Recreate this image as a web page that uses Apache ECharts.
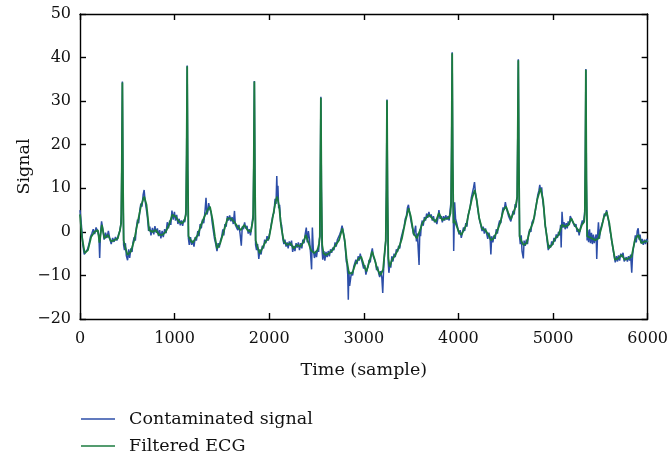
<!DOCTYPE html>
<html><head><meta charset="utf-8">
<script src="https://cdn.jsdelivr.net/npm/echarts@6/dist/echarts.min.js"></script>
<style>html,body{margin:0;padding:0;background:#fff}#c{width:671px;height:455px}</style>
</head><body><div id="c"></div>
<script>
// ---- data ----
const seriesNames = ["Contaminated signal", "Filtered ECG"];
const xTicks = [0, 1000, 2000, 3000, 4000, 5000, 6000];
const yTicks = [-20, -10, 0, 10, 20, 30, 40, 50];

const greenX = [0,20,50,84,119,154,189,206,231,259,294,329,364,399,423,435,442,448,454,462,476,503,538,573,608,643,678,703,731,766,801,836,871,906,941,976,1011,1046,1081,1105,1120,1127,1133,1139,1147,1168,1190,1220,1245,1280,1315,1350,1374,1402,1426,1448,1482,1518,1560,1595,1630,1665,1700,1735,1770,1805,1822,1830,1837,1843,1849,1857,1875,1899,1927,1962,1997,2032,2067,2084,2105,2126,2154,2189,2224,2259,2294,2329,2364,2388,2406,2441,2476,2510,2528,2535,2540,2546,2552,2560,2574,2598,2633,2668,2703,2738,2773,2798,2819,2843,2878,2913,2948,2972,3000,3028,3053,3088,3112,3140,3175,3203,3221,3232,3239,3245,3251,3259,3273,3298,3333,3368,3403,3438,3473,3497,3525,3560,3595,3619,3654,3689,3724,3759,3794,3829,3864,3899,3916,3922,3928,3934,3940,3948,3958,3979,4004,4031,4056,4084,4109,4144,4172,4196,4220,4249,4284,4319,4343,4371,4406,4441,4476,4503,4528,4555,4580,4604,4621,4627,4633,4639,4647,4661,4686,4721,4756,4791,4832,4867,4895,4919,4954,4989,5024,5059,5095,5130,5165,5193,5217,5252,5280,5305,5329,5336,5341,5347,5353,5361,5375,5410,5445,5480,5515,5539,5567,5595,5620,5655,5690,5725,5760,5795,5830,5865,5900,5935,5970,6000];
const greenY = [4.0,-1.1,-4.9,-4.2,-1.1,0,0.4,-2.5,1.6,-1.5,-0.7,-2.2,-1.9,-1.5,0.4,2,15,34.3,12,-2,-3.4,-5.3,-4.5,-1.9,2.0,5.8,8.1,6.2,0.4,0,0.4,-0.7,-0.7,0,1.6,3.9,3.5,2.3,2.0,2.7,4,18,38.0,14,-1,-1.9,-2.5,-1.5,-0.7,1.6,3.5,5.0,5.8,2.7,-1.1,-3.8,-2.6,0,3.1,3.1,2.3,1.2,0.4,1.6,0.4,0,2.0,3,16,34.5,12,-2,-3.4,-4.9,-3.8,-2.2,-1.5,2.7,6.9,8.1,5.8,1.2,-2.2,-3.0,-2.6,-3.8,-3.0,-3.4,-2.2,-0.7,-1.1,-4.2,-4.9,-4.2,-2.6,-1,12,30.8,10,-3,-4.9,-5.3,-4.9,-4.2,-3.0,-1.9,0.8,-1.9,-6.4,-9.5,-9.5,-7.2,-6.1,-5.7,-7.6,-9.1,-7.2,-4.5,-6.1,-8.4,-9.9,-8.7,-4.5,-2,10,30.2,8,-6,-8.0,-6.4,-5.3,-3.8,-1.5,2.3,5.4,3.5,-0.3,-1.5,0.4,2.0,3.1,3.9,3.1,2.3,4.3,2.7,3.1,3.1,4.3,6,20,41.0,16,2,2.7,2.3,0,-0.7,0.4,1.6,4.3,7.7,9.6,6.9,3.1,0.8,0.4,-0.7,-1.9,-1.5,0,2.0,5.0,5.8,4.3,2.9,4.3,5.8,8,22,39.4,16,-1,-1.9,-3.0,-2.6,0.4,2.3,7.3,10.0,7.3,1.2,-3.8,-3.0,-1.5,-0.7,1.6,1.2,1.6,3.1,2.0,0.8,0,1.6,2.3,4,16,37.2,12,-1,-1.1,-1.5,-1.9,-1.5,1.2,3.5,4.6,2.0,-1.9,-6.4,-6.1,-5.3,-6.4,-6.1,-5.7,-1.9,-0.7,-2.6,-2.2,-2.2];

const blueX = [0,15,30,45,60,80,95,110,125,140,155,170,185,200,208,216,228,240,255,270,285,300,315,330,345,360,375,390,405,420,430,437,442,448,454,461,470,480,490,503,515,525,538,550,560,573,585,595,608,620,632,643,655,668,678,688,700,712,725,738,750,766,780,792,805,818,830,842,855,868,880,895,910,922,935,948,960,972,985,998,1010,1022,1035,1048,1060,1072,1085,1097,1108,1116,1122,1127,1133,1139,1146,1155,1168,1180,1192,1205,1218,1230,1245,1258,1270,1282,1295,1308,1320,1332,1342,1350,1360,1372,1385,1398,1410,1422,1435,1448,1460,1472,1485,1497,1510,1520,1532,1545,1558,1570,1582,1595,1608,1620,1633,1642,1655,1668,1680,1693,1705,1715,1728,1740,1752,1765,1778,1790,1802,1812,1822,1831,1837,1843,1849,1856,1866,1877,1890,1902,1914,1927,1940,1952,1965,1977,1990,2002,2015,2025,2038,2050,2062,2072,2080,2086,2092,2100,2110,2120,2132,2143,2155,2166,2178,2190,2200,2212,2225,2236,2248,2260,2272,2284,2296,2308,2320,2332,2345,2356,2368,2380,2392,2402,2414,2426,2436,2448,2456,2466,2478,2490,2500,2512,2522,2530,2536,2540,2546,2552,2558,2566,2578,2588,2600,2612,2624,2636,2648,2660,2672,2684,2696,2708,2720,2732,2745,2758,2770,2780,2792,2804,2815,2822,2830,2836,2842,2850,2860,2870,2882,2893,2905,2916,2928,2940,2952,2962,2974,2986,2998,3010,3022,3034,3045,3056,3068,3080,3090,3100,3112,3124,3135,3146,3158,3168,3178,3190,3200,3208,3216,3232,3239,3245,3251,3258,3265,3275,3285,3296,3308,3320,3332,3344,3356,3368,3380,3392,3404,3415,3426,3438,3450,3462,3472,3482,3494,3505,3515,3528,3540,3548,3556,3566,3584,3592,3600,3608,3618,3628,3640,3652,3664,3676,3688,3700,3712,3724,3736,3748,3760,3772,3784,3794,3806,3818,3830,3842,3854,3866,3878,3890,3902,3912,3922,3928,3934,3940,3947,3950,3960,3970,3982,3994,4006,4018,4030,4042,4054,4066,4078,4090,4100,4112,4124,4136,4148,4160,4170,4180,4190,4202,4214,4226,4238,4250,4262,4274,4286,4298,4310,4322,4334,4343,4352,4364,4376,4388,4400,4412,4424,4436,4448,4460,4472,4484,4496,4508,4518,4530,4542,4554,4566,4578,4590,4600,4610,4621,4627,4633,4639,4646,4654,4664,4672,4686,4694,4706,4718,4730,4742,4754,4766,4778,4790,4802,4814,4826,4838,4850,4860,4870,4880,4892,4904,4915,4926,4938,4950,4962,4974,4986,4998,5010,5022,5034,5046,5058,5070,5080,5086,5095,5106,5118,5128,5140,5150,5160,5172,5182,5194,5206,5218,5230,5242,5254,5266,5276,5288,5298,5310,5322,5332,5337,5341,5347,5353,5360,5366,5376,5386,5396,5406,5416,5426,5436,5446,5456,5462,5470,5480,5490,5500,5510,5520,5530,5542,5554,5566,5576,5588,5600,5612,5624,5636,5648,5658,5670,5682,5692,5704,5716,5728,5740,5752,5762,5774,5786,5798,5810,5820,5832,5840,5850,5860,5870,5880,5890,5900,5910,5920,5930,5942,5954,5966,5978,5990,6000];
const blueY = [5.0,1.5,-3.0,-5.2,-4.6,-4.0,-2.8,-1.2,-0.4,0.6,-0.5,1.0,0.2,-1.0,-6.0,-0.5,2.4,0.8,-1.8,-0.2,-1.4,0.2,-1.6,-2.8,-1.4,-2.3,-1.2,-2.0,-0.8,0.2,1.5,4,16,34.5,12,-3,-4.2,-2.6,-5.5,-6.5,-4.0,-6.0,-3.8,-4.6,-2.4,-1.2,-2.0,0.8,2.8,2.0,4.8,6.5,5.8,8.6,9.6,7.2,6.8,3.5,0.2,1.2,-0.8,0.9,-0.6,1.3,-0.2,0.8,-1.0,0.4,-1.5,0.2,-1.2,0.6,-0.3,2.2,0.8,2.6,1.6,4.9,2.8,4.6,2.6,3.9,1.8,3.0,1.5,2.6,1.4,2.8,2.2,4.0,6,18,38.2,14,-1.5,-3.0,-1.2,-3.0,-2.0,-3.4,-1.2,-2.0,0.2,-1.0,1.8,0.8,2.8,2.0,4.4,7.8,4.0,4.6,6.6,5.2,4.6,2.0,2.2,-1.6,-2.8,-4.4,-2.6,-3.6,-2.0,-1.2,0.6,-0.8,1.8,1.2,3.6,2.6,3.8,2.4,3.4,1.8,4.8,1.6,2.0,0.4,1.6,-0.6,-3.2,1.2,0.6,2.2,0.8,1.4,-0.4,0.6,-0.8,0.8,2.6,4,16,34.6,12,-3,-4.2,-2.8,-6.2,-4.0,-5.2,-3.2,-3.8,-1.8,-2.6,-1.0,-2.0,-0.6,0.8,2.2,3.8,4.4,7.6,6.4,12.8,8.0,10.6,5.4,6.2,2.4,1.4,-1.4,-2.8,-1.8,-3.4,-2.4,-3.8,-2.2,-3.2,-2.0,-4.6,-3.2,-4.4,-2.6,-3.6,-2.4,-4.2,-2.6,-3.8,-1.8,-2.6,-0.6,1.0,-2.4,0.2,-1.8,-4.6,-8.6,1.0,-4.0,-6.0,-4.6,-5.8,-3.8,-4.6,-1.8,-1,12,31.0,10,-4,-6.4,-4.4,-6.6,-4.6,-5.8,-4.4,-5.6,-4.0,-4.8,-3.6,-4.2,-2.4,-3.4,-1.8,-2.2,-0.6,0.2,1.4,0.4,-1.2,-3.6,-6.8,-7.4,-9.8,-15.6,-9.0,-12.4,-12.0,-9.2,-10.0,-8.0,-7.6,-6.4,-7.4,-5.6,-6.6,-5.0,-6.2,-6.6,-8.4,-7.6,-9.8,-8.6,-8.0,-6.4,-7.0,-4.8,-3.8,-5.6,-5.4,-7.0,-8.8,-8.0,-9.6,-10.4,-9.0,-10.4,-14.0,-9.2,-6.0,-2,10,30.4,8,-7,-9.4,-7.4,-8.2,-5.6,-6.8,-5.0,-5.8,-4.0,-4.6,-3.2,-3.8,-1.6,-2.0,0.4,1.2,3.0,3.6,5.6,6.2,4.6,4.2,1.8,0.8,-0.8,-0.8,1.4,-2.2,-0.4,-7.6,0.6,-1.0,1.6,2.6,1.4,3.4,2.6,4.2,3.2,4.6,3.4,4.0,2.6,3.6,2.2,2.8,1.8,3.2,5.0,3.0,3.6,2.2,3.6,2.6,3.8,2.8,3.6,2.6,5.0,7,20,41.2,16,2,-4.4,6.8,3.0,2.0,0.8,-0.6,0.4,-1.4,-0.2,1.0,0.2,2.0,1.2,3.6,4.6,5.6,7.8,8.0,10.2,11.4,9.0,7.8,5.6,3.8,2.4,1.4,0.2,1.2,-0.4,0.8,-0.4,-1.6,-0.2,-1.2,-5.2,-1.0,-2.4,-0.8,-1.6,0.6,-0.4,1.6,2.6,2.0,4.0,5.6,5.0,6.8,5.4,5.0,3.6,4.0,2.4,3.6,4.8,4.0,6.4,5.6,8,22,39.6,16,-1,-2.8,-0.8,-4.4,-6.1,-2.0,-3.2,-1.8,-2.8,-0.4,0.6,0.0,2.2,1.8,3.2,5.0,6.6,8.4,9.4,10.8,9.2,10.2,7.0,5.2,1.8,0.4,-2.2,-4.2,-3.0,-3.6,-2.2,-3.0,-1.4,-2.2,-0.6,-1.4,0.0,-0.8,1.6,-3.6,4.6,1.0,2.2,0.6,2.0,0.8,2.4,1.6,3.6,4.0,2.4,2.8,1.2,1.8,0.0,0.6,-0.8,0.8,1.2,2.6,2.0,4.0,5,16,37.4,12,-2,0.4,-2.4,0.6,-2.6,-0.2,-2.8,-0.6,-2.6,-1.4,-0.6,-6.2,-1.2,2.2,-1.6,0.4,0.6,2.0,2.6,4.2,3.6,5.0,3.6,2.4,0.6,-0.8,-2.6,-4.2,-5.8,-7.0,-5.6,-6.8,-5.4,-6.6,-5.0,-5.8,-4.8,-6.8,-7.2,-5.8,-6.8,-5.6,-6.6,-5.2,-9.4,-5.6,-3.6,-2.6,-0.8,-2.4,0.2,0.8,-1.8,-0.6,-2.6,-1.6,-3.0,-1.8,-2.8,-1.6,-2.4];

const zip = (xs, ys) => xs.map((x, i) => [x, ys[i]]);
const FONT = 'DejaVu Serif';
const minus = v => String(v).replace('-', '\u2212');

const chart = echarts.init(document.getElementById('c'), null, {renderer: 'canvas'});
const axisLine = {show: true, onZero: false, lineStyle: {color: '#000', width: 1.4}};
const tick = {show: true, inside: true, length: 6, lineStyle: {color: '#000', width: 1.4}};
const labelStyle = {color: '#111', fontFamily: FONT, fontSize: 16};
const bigStyle = {color: '#111', fontFamily: FONT, fontSize: 17.5};

chart.setOption({
  animation: false,
  backgroundColor: '#fff',
  grid: {left: 80, right: 19, top: 14, bottom: 136, containLabel: false},
  xAxis: [
    {type: 'value', min: xTicks[0], max: xTicks[xTicks.length-1], interval: 1000, position: 'bottom',
     name: 'Time (sample)', nameLocation: 'middle', nameGap: 42, nameMoveOverlap: false,
     nameTextStyle: bigStyle, axisLine, axisTick: tick, splitLine: {show: false},
     axisLabel: Object.assign({margin: 12, formatter: minus}, labelStyle)},
    {type: 'value', min: xTicks[0], max: xTicks[xTicks.length-1], interval: 1000, position: 'top',
     axisLine, axisTick: tick, splitLine: {show: false}, axisLabel: {show: false}}
  ],
  yAxis: [
    {type: 'value', min: yTicks[0], max: yTicks[yTicks.length-1], interval: 10, position: 'left',
     name: 'Signal', nameLocation: 'middle', nameGap: 47, nameRotate: 90, nameMoveOverlap: false,
     nameTextStyle: bigStyle, axisLine, axisTick: tick, splitLine: {show: false},
     axisLabel: Object.assign({margin: 9, formatter: minus}, labelStyle)},
    {type: 'value', min: yTicks[0], max: yTicks[yTicks.length-1], interval: 10, position: 'right',
     axisLine, axisTick: tick, splitLine: {show: false}, axisLabel: {show: false}}
  ],
  legend: [
    {data: [{name: seriesNames[0], icon: 'rect'}], orient: 'vertical', left: 81, top: 410, padding: 0,
     itemWidth: 34, itemHeight: 1.5, textStyle: Object.assign({padding: [0, 0, 0, 9]}, bigStyle)},
    {data: [{name: seriesNames[1], icon: 'rect'}], orient: 'vertical', left: 81, top: 437, padding: 0,
     itemWidth: 34, itemHeight: 1.5, textStyle: Object.assign({padding: [0, 0, 0, 9]}, bigStyle)}
  ],
  series: [
    {name: seriesNames[0], type: 'line', data: zip(blueX, blueY), showSymbol: false, symbol: 'none',
     color: '#2c4ea8', lineStyle: {color: '#2c4ea8', width: 1.5}, z: 2},
    {name: seriesNames[1], type: 'line', data: zip(greenX, greenY), showSymbol: false, symbol: 'none',
     color: '#1b7b3f', lineStyle: {color: '#1b7b3f', width: 1.8}, z: 3}
  ]
});
</script></body></html>
